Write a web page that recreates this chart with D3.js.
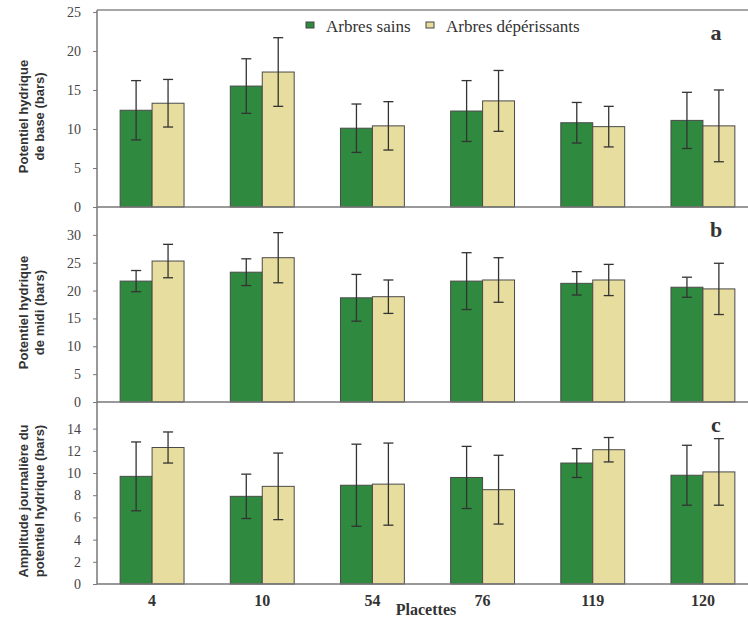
<!DOCTYPE html>
<html>
<head>
<meta charset="utf-8">
<script src="https://cdn.jsdelivr.net/npm/d3@7"></script>
<style>
  body { margin: 0; background: #fff; }
  svg { display: block; }
</style>
</head>
<body>
<div id="chart"></div>
<script>
// categories and series
const placettes = ["4", "10", "54", "76", "119", "120"];
const seriesNames = ["Arbres sains", "Arbres dépérissants"];

// a : potentiel hydrique de base
const baseSains = [12.4, 15.5, 10.1, 12.3, 10.8, 11.1];
const baseSainsErr = [3.8, 3.5, 3.1, 3.9, 2.6, 3.6];
const baseDeper = [13.3, 17.3, 10.4, 13.6, 10.3, 10.4];
const baseDeperErr = [3.05, 4.4, 3.1, 3.9, 2.6, 4.6];

// b : potentiel hydrique de midi
const midiSains = [21.7, 23.3, 18.7, 21.7, 21.3, 20.6];
const midiSainsErr = [1.9, 2.4, 4.2, 5.1, 2.1, 1.8];
const midiDeper = [25.3, 25.9, 18.9, 21.9, 21.9, 20.3];
const midiDeperErr = [3.0, 4.5, 3.0, 4.0, 2.8, 4.6];

// c : amplitude journaliere
const amplSains = [9.7, 7.9, 8.9, 9.6, 10.9, 9.8];
const amplSainsErr = [3.1, 2.0, 3.7, 2.8, 1.3, 2.7];
const amplDeper = [12.3, 8.8, 9.0, 8.5, 12.1, 10.1];
const amplDeperErr = [1.4, 3.0, 3.7, 3.1, 1.1, 3.0];

const ticksA = [0, 5, 10, 15, 20, 25];
const ticksB = [0, 5, 10, 15, 20, 25, 30];
const ticksC = [0, 2, 4, 6, 8, 10, 12, 14];

const width = 748, height = 620;
const left = 97;
const colors = ["#2f8a40", "#e6dd9e"];
const serif = "'Liberation Serif', 'Times New Roman', serif";
const sans = "'Liberation Sans', Arial, sans-serif";

const panels = [
  { letter: "a", title: ["Potentiel hydrique", "de base (bars)"], vals: [baseSains, baseDeper], errs: [baseSainsErr, baseDeperErr],
    ticks: ticksA, max: 25.25, top: 10, bottom: 207 },
  { letter: "b", title: ["Potentiel hydrique", "de midi (bars)"], vals: [midiSains, midiDeper], errs: [midiSainsErr, midiDeperErr],
    ticks: ticksB, max: 35, top: 207, bottom: 402 },
  { letter: "c", title: ["Amplitude journalière du", "potentiel hydrique (bars)"], vals: [amplSains, amplDeper], errs: [amplSainsErr, amplDeperErr],
    ticks: ticksC, max: 16.4, top: 402, bottom: 584 }
];

const svg = d3.select("#chart").append("svg")
  .attr("width", width)
  .attr("height", height);

var x = d3.scaleBand()
  .domain(placettes)
  .range([left, 758])
  .paddingInner(0.42)
  .paddingOuter(0.21);

var xs = d3.scaleBand()
  .domain(seriesNames)
  .range([0, x.bandwidth()]);

panels.forEach(function(p) {
  var y = d3.scaleLinear()
    .domain([0, p.max])
    .range([p.bottom, p.top]);

  var g = svg.append("g");

  // bars
  seriesNames.forEach(function(s, si) {
    var rows = placettes.map((c, i) => ({ cat: c, v: p.vals[si][i], e: p.errs[si][i] }));
    g.selectAll(".bar" + si)
      .data(rows)
      .enter()
      .append("rect")
      .attr("x", d => x(d.cat) + xs(s))
      .attr("y", d => y(d.v))
      .attr("width", xs.bandwidth())
      .attr("height", d => p.bottom - y(d.v))
      .style("fill", colors[si])
      .style("stroke", "#4a4a4a")
      .style("stroke-width", 1);

    // error bars
    var eb = g.selectAll(".err" + si)
      .data(rows)
      .enter()
      .append("g")
      .attr("transform", d => "translate(" + (x(d.cat) + xs(s) + xs.bandwidth() / 2) + ",0)")
      .style("stroke", "#333")
      .style("stroke-width", 1.3);
    eb.append("line")
      .attr("y1", d => y(d.v + d.e))
      .attr("y2", d => y(d.v - d.e));
    eb.append("line")
      .attr("x1", -5).attr("x2", 5)
      .attr("y1", d => y(d.v + d.e)).attr("y2", d => y(d.v + d.e));
    eb.append("line")
      .attr("x1", -5).attr("x2", 5)
      .attr("y1", d => y(d.v - d.e)).attr("y2", d => y(d.v - d.e));
  });

  // baseline
  g.append("line")
    .attr("x1", left).attr("x2", width)
    .attr("y1", p.bottom).attr("y2", p.bottom)
    .style("stroke", "#777")
    .style("stroke-width", 1.5);

  // y axis
  var ax = g.append("g")
    .attr("transform", "translate(" + left + ",0)")
    .call(d3.axisLeft(y).tickValues(p.ticks).tickSize(4).tickPadding(12).tickFormat(d3.format("d")));
  ax.select(".domain").remove();
  ax.selectAll("line").style("stroke", "#777");
  ax.selectAll("text")
    .style("font-family", serif)
    .style("font-size", "14px")
    .style("fill", "#444");

  // axis title
  var mid = (p.top + p.bottom) / 2 + 8;
  var t = g.append("text")
    .attr("transform", "translate(28," + mid + ") rotate(-90)")
    .attr("text-anchor", "middle")
    .style("font-family", sans)
    .style("font-weight", "bold")
    .style("font-size", "13px")
    .style("fill", "#333");
  t.append("tspan").attr("x", 0).attr("dy", 0).text(p.title[0]);
  t.append("tspan").attr("x", 0).attr("dy", 16).text(p.title[1]);

  // panel letter
  g.append("text")
    .attr("x", 716)
    .attr("y", p.top + 30)
    .attr("text-anchor", "middle")
    .style("font-family", serif)
    .style("font-weight", "bold")
    .style("font-size", "22px")
    .style("fill", "#333")
    .text(p.letter);
});

// frame top and left axis line
svg.append("line")
  .attr("x1", left).attr("x2", width)
  .attr("y1", 10).attr("y2", 10)
  .style("stroke", "#888").style("stroke-width", 1.5);
svg.append("line")
  .attr("x1", left).attr("x2", left)
  .attr("y1", 10).attr("y2", 584)
  .style("stroke", "#777").style("stroke-width", 1.5);

// x labels
svg.selectAll(".xlab")
  .data(placettes)
  .enter()
  .append("text")
  .attr("x", d => x(d) + x.bandwidth() / 2)
  .attr("y", 606)
  .attr("text-anchor", "middle")
  .style("font-family", serif)
  .style("font-weight", "bold")
  .style("font-size", "16px")
  .style("fill", "#333")
  .text(d => d);

svg.append("text")
  .attr("x", 426)
  .attr("y", 615)
  .attr("text-anchor", "middle")
  .style("font-family", serif)
  .style("font-weight", "bold")
  .style("font-size", "16px")
  .style("fill", "#333")
  .text("Placettes");

// legend
var legX = [306, 426];
var leg = svg.selectAll(".leg")
  .data(seriesNames)
  .enter()
  .append("g")
  .attr("transform", (d, i) => "translate(" + legX[i] + ",22)");
leg.append("rect")
  .attr("width", 8)
  .attr("height", 6)
  .style("fill", (d, i) => colors[i])
  .style("stroke", "#444")
  .style("stroke-width", 1);
leg.append("text")
  .attr("x", 20)
  .attr("y", 10)
  .style("font-family", serif)
  .style("font-size", "17px")
  .style("fill", "#333")
  .text(d => d);
</script>
</body>
</html>
